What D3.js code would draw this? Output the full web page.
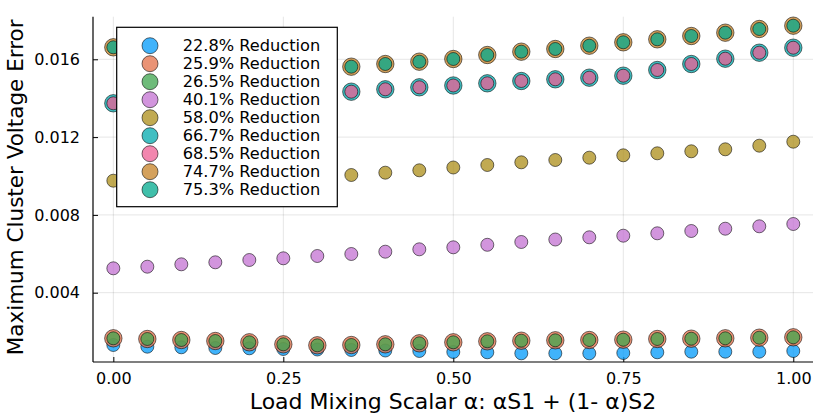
<!DOCTYPE html>
<html><head><meta charset="utf-8">
<script src="https://cdn.jsdelivr.net/npm/d3@7"></script>
<style>body{margin:0;background:#fff;} svg{display:block;}</style>
</head><body>
<svg id="c" width="830" height="415"></svg>
<script>
const alphas = [0,0.05,0.1,0.15,0.2,0.25,0.3,0.35,0.4,0.45,0.5,0.55,0.6,0.65,0.7,0.75,0.8,0.85,0.9,0.95,1.0];
const labels = ["22.8% Reduction","25.9% Reduction","26.5% Reduction","40.1% Reduction","58.0% Reduction","66.7% Reduction","68.5% Reduction","74.7% Reduction","75.3% Reduction"];
const colors = ["#009AFA","#E36F47","#3EA44E","#C371D2","#AC8E18","#00A9AD","#ED5E93","#C68225","#00A98D"];
const sizes = [6.5,8.7,6.5,6.5,6.5,8.7,6.5,8.7,6.5];
const s228 = [0.001311,0.001224,0.001193,0.001157,0.001141,0.001105,0.001080,0.001054,0.001028,0.001003,0.000951,0.000936,0.000884,0.000884,0.000884,0.000900,0.000936,0.000967,0.000967,0.000967,0.001003];
const s259 = [0.001656,0.001620,0.001568,0.001517,0.001450,0.001347,0.001296,0.001311,0.001347,0.001398,0.001450,0.001501,0.001532,0.001553,0.001568,0.001584,0.001620,0.001635,0.001656,0.001686,0.001707];
const s265 = s259.slice();
const s401 = [0.005254,0.005337,0.005460,0.005563,0.005681,0.005769,0.005887,0.005990,0.006108,0.006231,0.006334,0.006463,0.006607,0.006735,0.006848,0.006931,0.007054,0.007172,0.007290,0.007414,0.007532];
const s580 = [0.009758,0.009794,0.009830,0.009871,0.009913,0.009959,0.010000,0.010051,0.010170,0.010293,0.010437,0.010566,0.010704,0.010823,0.010941,0.011064,0.011167,0.011270,0.011373,0.011558,0.011763];
const s667 = [0.013738,0.013825,0.013913,0.014000,0.014082,0.014170,0.014252,0.014334,0.014458,0.014560,0.014653,0.014766,0.014884,0.014972,0.015054,0.015157,0.015450,0.015758,0.016031,0.016339,0.016596];
const s685 = s667.slice();
const s747 = [0.016617,0.016324,0.016093,0.015913,0.015758,0.015656,0.015604,0.015620,0.015758,0.015877,0.016015,0.016221,0.016391,0.016530,0.016699,0.016874,0.017028,0.017198,0.017368,0.017558,0.017728];
const s753 = s747.slice();
const seriesValues = [s228,s259,s265,s401,s580,s667,s685,s747,s753];
const xTicks = [0,0.25,0.5,0.75,1.0];
const xTickLabels = ["0.00","0.25","0.50","0.75","1.00"];
const yTicks = [0.004,0.008,0.012,0.016];
const yTickLabels = ["0.004","0.008","0.012","0.016"];

const svg = d3.select("#c");
const L=93, R=813, T=16.7, B=362;
const x = d3.scaleLinear().domain([-0.0299,1.029]).range([L,R]);
const y = d3.scaleLinear().domain([0.000437,0.01819]).range([B,T]);
const font = "DejaVu Sans, sans-serif";

// grid
const grid = svg.append("g");
grid.selectAll("line.gx").data(xTicks).join("line")
  .attr("x1",d=>x(d)).attr("x2",d=>x(d)).attr("y1",T).attr("y2",B)
  .attr("stroke","#000").attr("stroke-opacity",0.1).attr("stroke-width",1);
grid.selectAll("line.gy").data(yTicks).join("line")
  .attr("y1",d=>y(d)).attr("y2",d=>y(d)).attr("x1",L).attr("x2",R)
  .attr("stroke","#000").attr("stroke-opacity",0.1).attr("stroke-width",1);

// axes
const xAxis = d3.axisBottom(x).tickValues(xTicks).tickFormat((d,i)=>xTickLabels[i]).tickSizeInner(-5).tickSizeOuter(0).tickPadding(11);
const gx = svg.append("g").attr("transform",`translate(0,${B})`).call(xAxis);
const yAxis = d3.axisLeft(y).tickValues(yTicks).tickFormat((d,i)=>yTickLabels[i]).tickSizeInner(-5).tickSizeOuter(0).tickPadding(13);
const gy = svg.append("g").attr("transform",`translate(${L},0)`).call(yAxis);
[gx,gy].forEach(g=>{
  g.select(".domain").remove();
  g.selectAll("text").attr("font-family",font).attr("font-size",16).attr("fill","#000");
  g.selectAll("line").attr("stroke","#000");
});
svg.append("line").attr("x1",L).attr("x2",L).attr("y1",T).attr("y2",B).attr("stroke","#000").attr("stroke-width",1.2);
svg.append("line").attr("x1",L).attr("x2",R).attr("y1",B).attr("y2",B).attr("stroke","#000").attr("stroke-width",1.2);

// points
seriesValues.forEach((vals,si)=>{
  svg.append("g").selectAll("circle").data(vals).join("circle")
    .attr("cx",(d,i)=>x(alphas[i])).attr("cy",d=>y(d)).attr("r",sizes[si])
    .attr("fill",colors[si]).attr("fill-opacity",0.75)
    .attr("stroke","#000").attr("stroke-opacity",0.55).attr("stroke-width",1);
});

// labels
svg.append("text").attr("x",(L+R)/2).attr("y",409).attr("text-anchor","middle")
  .attr("font-family",font).attr("font-size",22).text("Load Mixing Scalar α: αS1 + (1- α)S2");
svg.append("text").attr("transform",`translate(23,${(T+B)/2 - 2}) rotate(-90)`).attr("text-anchor","middle")
  .attr("font-family",font).attr("font-size",21.5).text("Maximum Cluster Voltage Error");

// legend
const lg = svg.append("g");
lg.append("rect").attr("x",116.7).attr("y",27.3).attr("width",220.6).attr("height",179.4)
  .attr("fill","#fff").attr("stroke","#000").attr("stroke-width",1.2);
labels.forEach((lab,i)=>{
  const cy = 45.7 + i*18;
  lg.append("circle").attr("cx",150).attr("cy",cy).attr("r",8)
    .attr("fill",colors[i]).attr("fill-opacity",0.75).attr("stroke","#000").attr("stroke-opacity",0.55);
  lg.append("text").attr("x",182.7).attr("y",cy).attr("dy","0.35em")
    .attr("font-family",font).attr("font-size",16.2).text(lab);
});
</script>
</body></html>
